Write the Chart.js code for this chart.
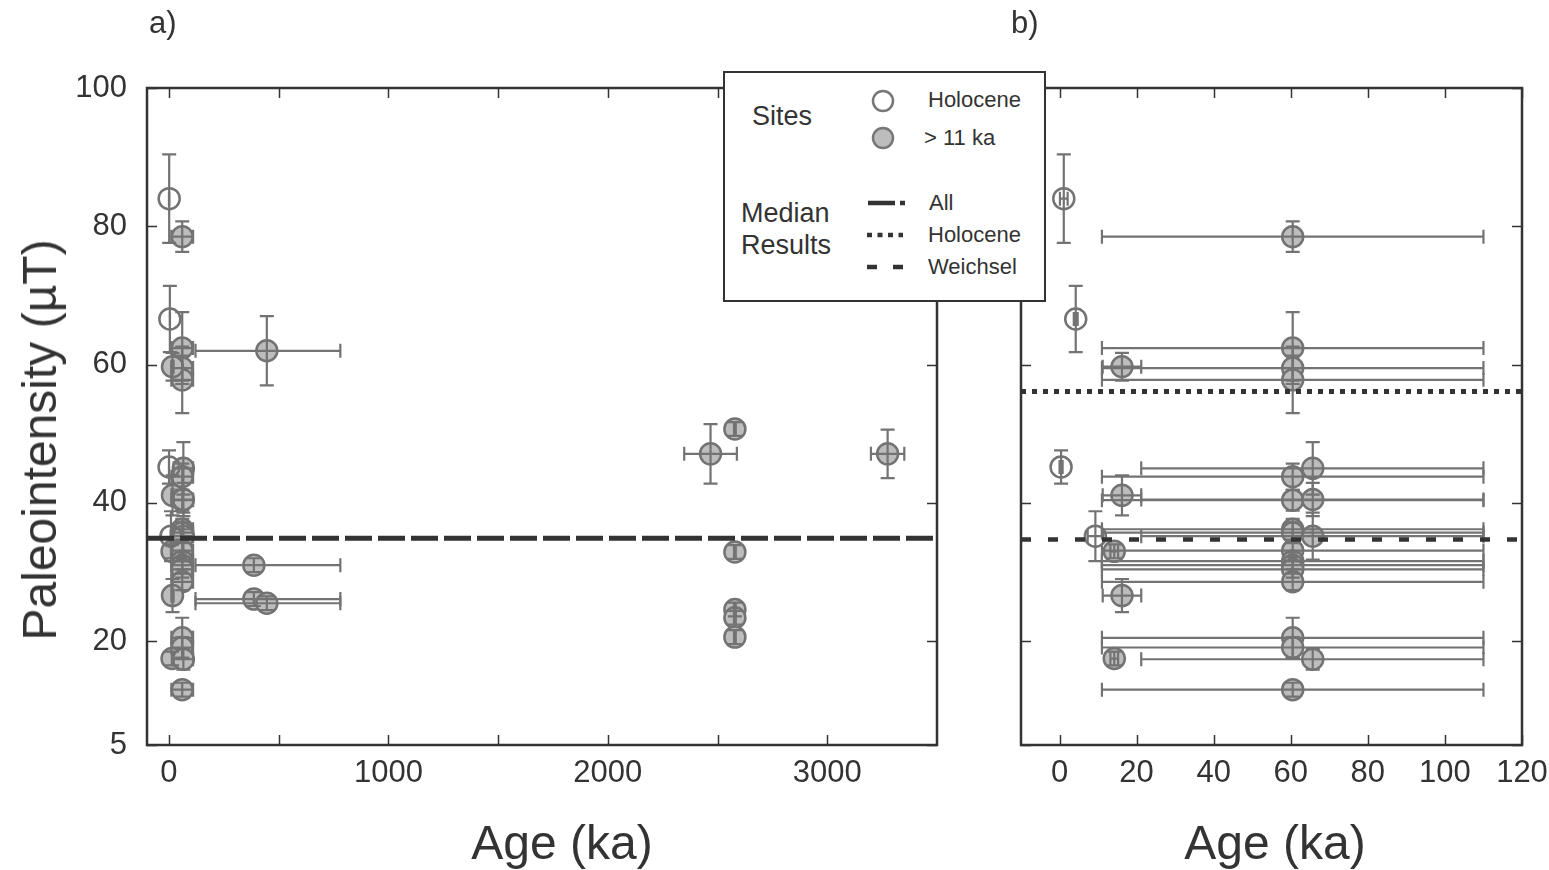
<!DOCTYPE html>
<html>
<head>
<meta charset="utf-8">
<script src="https://cdn.jsdelivr.net/npm/chart.js@4.4.1/dist/chart.umd.min.js"></script>
<style>
  body { margin: 0; background: #fff; width: 1549px; height: 870px; position: relative; overflow: hidden;
         font-family: 'Liberation Sans', Arial, sans-serif; color: #333; }
  canvas { position: absolute; top: 0; }
  #chartA { left: 0; }
  #chartB { left: 990px; }
  .lbl { position: absolute; line-height: 1; white-space: nowrap; }
  .ctr { transform: translate(-50%, -50%); }
  #legendBox { position: absolute; left: 723px; top: 71px; width: 323px; height: 231px; box-sizing: border-box;
               border: 2.5px solid #333; background: #fff; }
  #legendBox .lbl { transform: translateY(-50%); }
</style>
</head>
<body>
<canvas id="chartA" width="960" height="870"></canvas>
<canvas id="chartB" width="559" height="870"></canvas>

<div class="lbl" style="left:149px; top:7px; font-size:31px;">a)</div>
<div class="lbl" style="left:1011px; top:7px; font-size:31px;">b)</div>
<div class="lbl ctr" style="left:562px; top:843px; font-size:48px;">Age (ka)</div>
<div class="lbl ctr" style="left:1275px; top:843px; font-size:48px;">Age (ka)</div>
<div class="lbl" style="left:40px; top:440px; font-size:48px; transform: translate(-50%, -50%) rotate(-90deg);">Paleointensity (µT)</div>

<div id="legendBox">
  <svg width="320" height="228" style="position:absolute; left:0; top:0;">
    <circle cx="158" cy="28" r="10" fill="none" stroke="#777" stroke-width="2.5"/>
    <circle cx="158" cy="65" r="10" fill="#bdbdbd" stroke="#777" stroke-width="2.5"/>
    <line x1="143" y1="130" x2="180" y2="130" stroke="#333" stroke-width="4.5" stroke-dasharray="27 5"/>
    <line x1="142" y1="162" x2="178" y2="162" stroke="#333" stroke-width="4.5" stroke-dasharray="5 5.5"/>
    <line x1="142" y1="194" x2="178" y2="194" stroke="#333" stroke-width="4.5" stroke-dasharray="10 16"/>
  </svg>
  <span class="lbl" style="left:27px; top:43px; font-size:27px;">Sites</span>
  <span class="lbl" style="left:203px; top:27px; font-size:22px;">Holocene</span>
  <span class="lbl" style="left:199px; top:65px; font-size:22px;">&gt; 11 ka</span>
  <span class="lbl" style="left:16px; top:140px; font-size:27px;">Median</span>
  <span class="lbl" style="left:16px; top:172px; font-size:27px;">Results</span>
  <span class="lbl" style="left:204px; top:130px; font-size:22px;">All</span>
  <span class="lbl" style="left:203px; top:162px; font-size:22px;">Holocene</span>
  <span class="lbl" style="left:203px; top:194px; font-size:22px;">Weichsel</span>
</div>

<script>
// Holocene sites (open circles): age, age range, intensity, intensity error
const holoAge = [1.1, 4.2, 0.4, 9.3];
const holoAgeMin = [0.1, 3.7, 0.0, 7.3];
const holoAgeMax = [2.1, 4.7, 0.8, 11.3];
const holoPint = [84.0, 66.6, 45.2, 35.2];
const holoPintErr = [6.4, 4.8, 2.4, 3.6];

// sites older than 11 ka (filled circles)
const oldAge = [60.5, 60.5, 60.5, 60.5, 16.2, 65.7, 60.5, 16.2, 60.5, 65.7, 60.5, 60.5,
                65.7, 14.2, 60.5, 60.5, 60.5, 60.5, 60.5, 16.2, 60.5, 60.5, 14.2, 65.7,
                60.5, 446, 387, 387, 446, 2468, 2579, 2579, 2579, 2579, 2579, 3275];
const oldAgeMin = [11, 11, 11, 11, 11.2, 21.2, 11, 11.2, 11, 21.2, 11, 11,
                   21.2, 13.2, 11, 11, 11, 11, 11, 11.2, 11, 11, 13.2, 21.2,
                   11, 121, 121, 121, 121, 2348, 2575, 2575, 2575, 2575, 2575, 3199];
const oldAgeMax = [110, 110, 110, 110, 21.2, 110, 110, 21.2, 110, 110, 110, 110,
                   110, 15.2, 110, 110, 110, 110, 110, 21.2, 110, 110, 15.2, 110,
                   110, 781, 781, 781, 781, 2588, 2583, 2583, 2583, 2583, 2583, 3351];
const oldPint = [78.5, 62.4, 59.5, 57.8, 59.7, 45.0, 43.8, 41.1, 40.4, 40.5, 36.2, 35.7,
                 35.2, 33.0, 33.1, 31.6, 31.0, 30.4, 28.6, 26.6, 20.5, 19.1, 17.5, 17.4,
                 13.0, 62.0, 31.0, 26.1, 25.5, 47.1, 50.7, 32.9, 24.6, 23.4, 20.6, 47.1];
const oldPintErr = [2.2, 5.2, 1.8, 4.8, 2.0, 3.8, 1.9, 2.9, 1.5, 2.4, 1.5, 1.5,
                    3.4, 1.0, 1.5, 1.2, 1.2, 1.2, 1.2, 2.4, 2.9, 1.5, 1.0, 1.5,
                    1.0, 5.0, 1.0, 1.0, 1.0, 4.3, 1.0, 1.0, 1.0, 1.0, 1.0, 3.5];

// median results
const medianAll = 34.9;
const medianHolocene = 56.1;
const medianWeichsel = 34.7;

// axes
const yRange = [5, 100];
const yTicks = [5, 20, 40, 60, 80, 100];
const xRangeA = [-100, 3500];
const xTicksA = [0, 500, 1000, 1500, 2000, 2500, 3000];
const xLabelsA = ['0', '', '1000', '', '2000', '', '3000'];
const xRangeB = [-10, 120];
const xTicksB = [0, 20, 40, 60, 80, 100, 120];
const xLabelsB = ['0', '20', '40', '60', '80', '100', '120'];

Chart.defaults.font.family = "'Liberation Sans', Arial, sans-serif";
Chart.defaults.color = '#333';

const toPoints = (xs, ys) => xs.map((v, i) => ({ x: v, y: ys[i] }));

// error bars, drawn right after each site dataset
const errorBars = {
  id: 'errorBars',
  afterDatasetDraw(chart, args) {
    const ds = chart.data.datasets[args.index];
    if (!ds.xMin) return;
    const { ctx, chartArea: a, scales: { x, y } } = chart;
    const cap = 7;
    ctx.save();
    ctx.beginPath();
    ctx.rect(a.left, a.top, a.width, a.height);
    ctx.clip();
    ctx.strokeStyle = '#737373';
    ctx.lineWidth = 2.2;
    ds.data.forEach((p, i) => {
      const px = x.getPixelForValue(p.x);
      const py = y.getPixelForValue(p.y);
      const x0 = x.getPixelForValue(ds.xMin[i]);
      const x1 = x.getPixelForValue(ds.xMax[i]);
      const y0 = y.getPixelForValue(p.y - ds.yErr[i]);
      const y1 = y.getPixelForValue(p.y + ds.yErr[i]);
      ctx.beginPath();
      ctx.moveTo(x0, py); ctx.lineTo(x1, py);
      ctx.moveTo(x0, py - cap); ctx.lineTo(x0, py + cap);
      ctx.moveTo(x1, py - cap); ctx.lineTo(x1, py + cap);
      ctx.moveTo(px, y0); ctx.lineTo(px, y1);
      ctx.moveTo(px - cap, y0); ctx.lineTo(px + cap, y0);
      ctx.moveTo(px - cap, y1); ctx.lineTo(px + cap, y1);
      ctx.stroke();
    });
    ctx.restore();
  }
};

// box frame with inward ticks on all four sides
const frame = {
  id: 'frame',
  afterDraw(chart) {
    const { ctx, chartArea: a, scales: { x, y } } = chart;
    const len = 10;
    ctx.save();
    ctx.strokeStyle = '#333';
    ctx.lineWidth = 1.5;
    ctx.beginPath();
    x.ticks.forEach(t => {
      const px = Math.round(x.getPixelForValue(t.value)) + 0.5;
      ctx.moveTo(px, a.bottom); ctx.lineTo(px, a.bottom - len);
      ctx.moveTo(px, a.top); ctx.lineTo(px, a.top + len);
    });
    y.ticks.forEach(t => {
      const py = Math.round(y.getPixelForValue(t.value)) + 0.5;
      ctx.moveTo(a.left, py); ctx.lineTo(a.left + len, py);
      ctx.moveTo(a.right, py); ctx.lineTo(a.right - len, py);
    });
    ctx.stroke();
    ctx.lineWidth = 2.5;
    ctx.strokeRect(a.left, a.top, a.width, a.height);
    ctx.restore();
  }
};

function siteSets() {
  return [
    {
      label: '> 11 ka',
      data: toPoints(oldAge, oldPint),
      xMin: oldAgeMin, xMax: oldAgeMax, yErr: oldPintErr,
      backgroundColor: '#bdbdbd', borderColor: '#737373',
      pointRadius: 10.5, pointBorderWidth: 2.5, order: 2
    },
    {
      label: 'Holocene',
      data: toPoints(holoAge, holoPint),
      xMin: holoAgeMin, xMax: holoAgeMax, yErr: holoPintErr,
      backgroundColor: 'rgba(255,255,255,0)', borderColor: '#737373',
      pointRadius: 10.5, pointBorderWidth: 2.5, order: 1
    }
  ];
}

function medianLine(label, value, range, dash, width) {
  return {
    type: 'line', label: label,
    data: [{ x: range[0], y: value }, { x: range[1], y: value }],
    borderColor: '#333', borderWidth: width, borderDash: dash,
    pointRadius: 0, order: 0
  };
}

function makeOptions(xRange, xTicks, xLabels, padding, yWidth, showY) {
  return {
    responsive: false,
    animation: false,
    events: [],
    layout: { padding: padding },
    plugins: { legend: { display: false }, tooltip: { enabled: false } },
    scales: {
      x: {
        type: 'linear', min: xRange[0], max: xRange[1],
        grid: { display: false, drawTicks: false }, border: { display: false },
        afterBuildTicks: s => { s.ticks = xTicks.map(v => ({ value: v })); },
        afterFit: s => { s.height = 125; s.paddingLeft = 0; s.paddingRight = 0; },
        ticks: {
          autoSkip: false, maxRotation: 0, padding: 10,
          font: { size: 31 },
          callback: (v) => xLabels[xTicks.indexOf(v)] ?? ''
        }
      },
      y: {
        type: 'linear', min: yRange[0], max: yRange[1],
        grid: { display: false, drawTicks: false }, border: { display: false },
        afterBuildTicks: s => { s.ticks = yTicks.map(v => ({ value: v })); },
        afterFit: s => { s.width = yWidth; s.paddingTop = 0; s.paddingBottom = 0; },
        ticks: { display: showY, padding: 20, font: { size: 31 } }
      }
    }
  };
}

new Chart(document.getElementById('chartA'), {
  type: 'scatter',
  data: { datasets: [...siteSets(), medianLine('All', medianAll, xRangeA, [27, 6], 5)] },
  options: makeOptions(xRangeA, xTicksA, xLabelsA, { top: 88, right: 23, left: 0, bottom: 0 }, 147, true),
  plugins: [errorBars, frame]
});

new Chart(document.getElementById('chartB'), {
  type: 'scatter',
  data: {
    datasets: [
      ...siteSets(),
      medianLine('Holocene', medianHolocene, xRangeB, [5, 6], 5),
      medianLine('Weichsel', medianWeichsel, xRangeB, [10, 17], 4.5)
    ]
  },
  options: makeOptions(xRangeB, xTicksB, xLabelsB, { top: 88, right: 27, left: 31, bottom: 0 }, 0, false),
  plugins: [errorBars, frame]
});
</script>
</body>
</html>
